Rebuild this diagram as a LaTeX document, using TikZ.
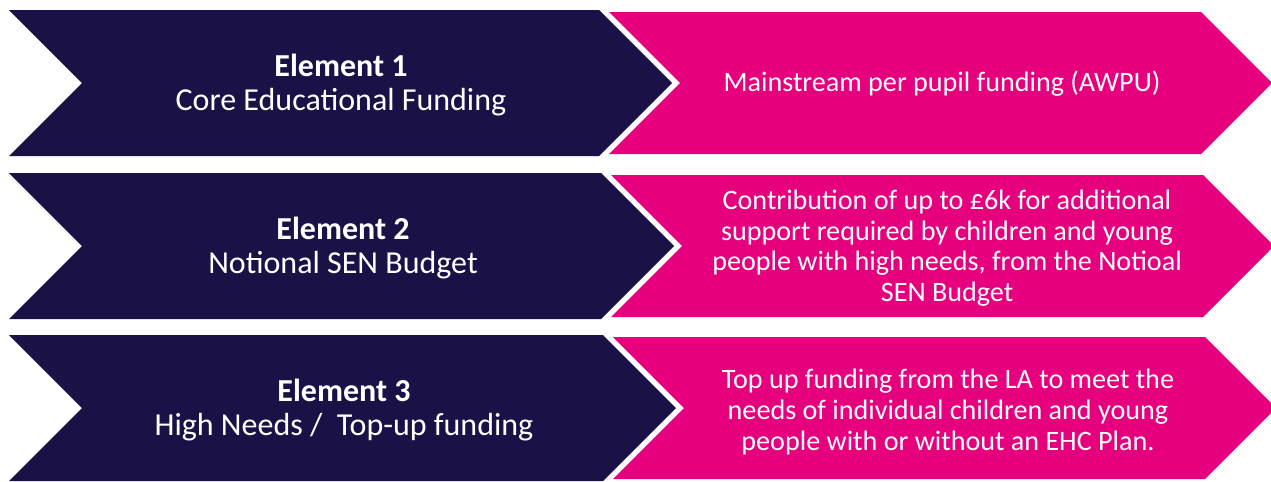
\documentclass[tikz,border=0pt]{standalone}
\usepackage{fontspec}
\setmainfont{Carlito}
\definecolor{elemnavy}{RGB}{26,18,70}
\definecolor{elempink}{RGB}{230,0,126}
\begin{document}
\begin{tikzpicture}[x=0.01cm,y=-0.01cm,
    navychev/.style={fill=elemnavy},
    pinkchev/.style={fill=elempink},
    elemtext/.style={text=white,align=center,font=\fontsize{9.1}{9.9}\selectfont},
    desctext/.style={text=white,align=center,font=\fontsize{8}{8.7}\selectfont}]
  \useasboundingbox (0,0) rectangle (1271,481);
  \begin{scope}
    \fill[navychev] (9,10) -- (599,10) -- (672,83) -- (599,156) -- (9,156) -- (82,83) -- cycle;
    \fill[navychev] (9,173) -- (601,173) -- (674,246) -- (601,319) -- (9,319) -- (82,246) -- cycle;
    \fill[navychev] (9,335) -- (603,335) -- (676,408) -- (603,481) -- (9,481) -- (82,408) -- cycle;
    \fill[pinkchev] (609,12) -- (1201,12) -- (1272,83) -- (1201,154) -- (609,154) -- (680,83) -- cycle;
    \fill[pinkchev] (611,175) -- (1203,175) -- (1274,246) -- (1203,317) -- (611,317) -- (682,246) -- cycle;
    \fill[pinkchev] (613,337) -- (1205,337) -- (1276,408) -- (1205,479) -- (613,479) -- (684,408) -- cycle;
  \end{scope}
  \draw
    (341,85) node[elemtext] (e1) {\textbf{Element 1}\\Core Educational Funding}
    (343,248) node[elemtext] (e2) {\textbf{Element 2}\\Notional SEN Budget}
    (344,410) node[elemtext] (e3) {\textbf{Element 3}\\High Needs /~ Top-up funding};
  \draw
    (942,84) node[desctext] (d1) {Mainstream per pupil funding (AWPU)}
    (947,248) node[desctext] (d2) {Contribution of up to £6k for additional\\support required by children and young\\people with high needs, from the Notioal\\SEN Budget}
    (948,412) node[desctext] (d3) {Top up funding from the LA to meet the\\needs of individual children and young\\people with or without an EHC Plan.};
\end{tikzpicture}
\end{document}
